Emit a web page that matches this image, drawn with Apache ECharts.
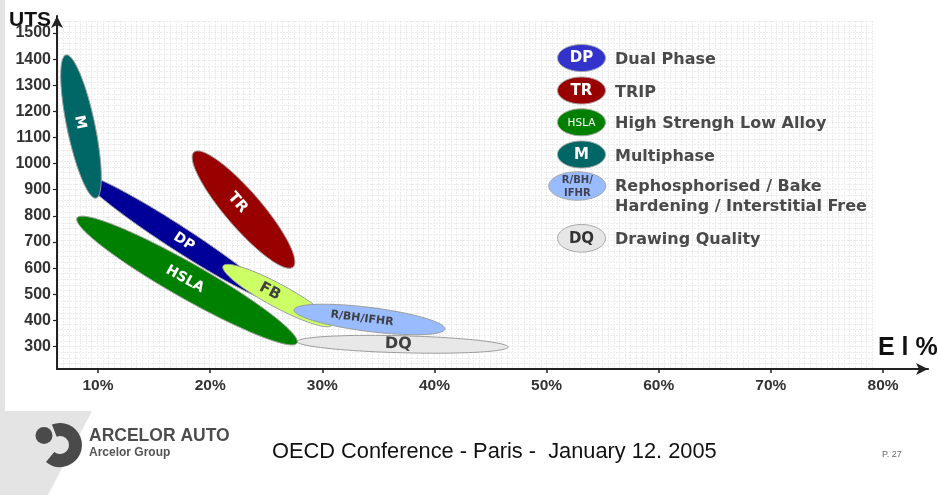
<!DOCTYPE html>
<html>
<head>
<meta charset="utf-8">
<script src="https://cdn.jsdelivr.net/npm/echarts@6/dist/echarts.min.js"></script>
<style>
html,body{margin:0;padding:0;background:#ffffff;}
#chart{width:938px;height:495px;}
</style>
</head>
<body>
<div id="chart"></div>
<script>
// ---- data: steel grade regions, given by the two ends of each region's long axis ----
const grades   = ['DQ', 'HSLA', 'DP', 'M', 'TR', 'FB', 'R/BH/IFHR'];
const elStart  = [27.75, 8.13, 8.53, 7.15, 18.56, 21.15, 27.48];   // El % at start of region
const utsStart = [319, 792, 955, 1416, 1044, 608, 440];             // UTS (MPa) at start
const elEnd    = [46.56, 27.75, 25.74, 9.82, 27.39, 30.87, 40.94];  // El % at end of region
const utsEnd   = [298, 313, 476, 868, 604, 382, 367];               // UTS (MPa) at end

// ---- tick labels ----
const xTicks = [10, 20, 30, 40, 50, 60, 70, 80];
const yTicks = [300, 400, 500, 600, 700, 800, 900, 1000, 1100, 1200, 1300, 1400, 1500];

// ---- legend ----
const legendCodes = ['DP', 'TR', 'HSLA', 'M', 'R/BH/\nIFHR', 'DQ'];
const legendNames = ['Dual Phase', 'TRIP', 'High Strengh Low Alloy', 'Multiphase',
                     'Rephosphorised / Bake\nHardening / Interstitial Free', 'Drawing Quality'];

// ---- styles (not data) ----
const look = {
  'DQ':        {fill:'#e8e8e8', text:'#404040', half:8.5,  font:16, t:0.48},
  'HSLA':      {fill:'#008000', text:'#ffffff', half:17.5, font:14, t:0.49},
  'DP':        {fill:'#000099', text:'#ffffff', half:12,   font:14, t:0.53},
  'M':         {fill:'#006666', text:'#ffffff', half:14,   font:14, t:0.47},
  'TR':        {fill:'#990000', text:'#ffffff', half:18,   font:15, t:0.44},
  'FB':        {fill:'#ccff66', text:'#404040', half:11.5, font:15, t:0.43},
  'R/BH/IFHR': {fill:'#99bbff', text:'#404040', half:12,   font:11, t:0.45}
};
const legendLook = [
  {fill:'#3333cc', text:'#ffffff', font:'bold 15px "DejaVu Sans"', rx:24, ry:13.5, cx:581.5, cy:58},
  {fill:'#990000', text:'#ffffff', font:'bold 15px "DejaVu Sans"', rx:24, ry:13.5, cx:581.5, cy:90.5},
  {fill:'#008000', text:'#ffffff', font:'10.5px "DejaVu Sans"',    rx:24, ry:13.5, cx:581.5, cy:122.3},
  {fill:'#006666', text:'#ffffff', font:'bold 15px "DejaVu Sans"', rx:24, ry:13.5, cx:581.5, cy:154.5},
  {fill:'#99bbff', text:'#404055', font:'bold 10px "DejaVu Sans"', rx:28.5, ry:14.2, cx:577.3, cy:186},
  {fill:'#e6e6e6', text:'#333333', font:'bold 15px "DejaVu Sans"', rx:24, ry:13.8, cx:581.5, cy:238.3}
];

const regionData = grades.map((g, i) => [elStart[i], utsStart[i], elEnd[i], utsEnd[i]]);

const graphics = [];
// page decoration
graphics.push({type:'rect', shape:{x:0, y:0, width:5, height:411}, style:{fill:'#e4e4e4'}, silent:true});
graphics.push({type:'polygon', shape:{points:[[0,411],[92,411],[48,495],[0,495]]}, style:{fill:'#e4e4e4'}, silent:true});
// legend
legendCodes.forEach((code, i) => {
  const L = legendLook[i];
  graphics.push({type:'ellipse', shape:{cx:L.cx, cy:L.cy, rx:L.rx, ry:L.ry},
    style:{fill:L.fill, stroke:'#a8a8a8', lineWidth:1}, z:10});
  graphics.push({type:'text', x:L.cx, y:L.cy + 0.5, z:11,
    style:{text:code, fill:L.text, font:L.font, align:'center', verticalAlign:'middle', lineHeight:13}});
  graphics.push({type:'text', x:615, y:(i === 4 ? 197 : L.cy + 2), z:11,
    style:{text:legendNames[i], fill:'#4a4a4a', font:'bold 16px "DejaVu Sans"', align:'left', verticalAlign:'middle', lineHeight:19.5}});
});
// axis titles
graphics.push({type:'text', x:9, y:20, style:{text:'UTS', fill:'#111', font:'bold 21px "Liberation Sans", Arial', verticalAlign:'middle'}});
graphics.push({type:'text', x:878, y:348.5, style:{text:'E l %', fill:'#111', font:'bold 25px "Liberation Sans", Arial', verticalAlign:'middle'}});
// footer
graphics.push({type:'circle', shape:{cx:44, cy:435.5, r:8.5}, style:{fill:'#4a4a4a'}});
graphics.push({type:'sector', shape:{cx:60, cy:445, r:22, r0:9, startAngle:-Math.PI*0.62, endAngle:Math.PI*0.72, clockwise:true}, style:{fill:'#4a4a4a'}});
graphics.push({type:'text', x:89, y:436, style:{text:'ARCELOR AUTO', fill:'#4d4d4d', font:'bold 17.5px "Liberation Sans", Arial', verticalAlign:'middle'}});
graphics.push({type:'text', x:89, y:452.5, style:{text:'Arcelor Group', fill:'#555', font:'bold 12px "Liberation Sans", Arial', verticalAlign:'middle'}});
graphics.push({type:'text', x:272, y:452, style:{text:'OECD Conference - Paris -  January 12. 2005', fill:'#111', font:'21.8px "Liberation Sans", Arial', verticalAlign:'middle'}});
graphics.push({type:'text', x:882, y:455, style:{text:'P. 27', fill:'#666', font:'9px "Liberation Sans", Arial', verticalAlign:'middle'}});

const labelFont = '"Liberation Sans", Arial, sans-serif';

const option = {
  animation: false,
  backgroundColor: '#ffffff',
  grid: [
    {left:57, right:10, top:16, bottom:126},
    {left:58, top:21, width:814, height:348}
  ],
  xAxis: [
    {type:'value', gridIndex:0, min:6.344, max:84.01,
     axisLine:{show:true, symbol:['none','arrow'], symbolSize:[9,12], lineStyle:{color:'#222', width:2.2}},
     axisTick:{show:true, customValues:xTicks, length:4, lineStyle:{color:'#222', width:1.5}},
     axisLabel:{show:true, customValues:xTicks, formatter:(v) => v + '%', margin:9,
                color:'#333', fontWeight:'bold', fontSize:15.5, fontFamily:labelFont},
     splitLine:{show:false}},
    {type:'value', gridIndex:1, min:0, max:145, interval:1,
     axisLine:{show:false}, axisTick:{show:false}, axisLabel:{show:false},
     splitLine:{show:true, lineStyle:{color:'#ececec', width:1, type:[2,1]}}}
  ],
  yAxis: [
    {type:'value', gridIndex:0, min:213.9, max:1565,
     axisLine:{show:true, symbol:['none','arrow'], symbolSize:[9,12], lineStyle:{color:'#222', width:2}},
     axisTick:{show:true, customValues:yTicks, length:4, lineStyle:{color:'#222', width:1.2}},
     axisLabel:{show:true, customValues:yTicks, formatter:(v) => String(v), margin:6,
                color:'#333', fontWeight:'bold', fontSize:16, fontFamily:labelFont},
     splitLine:{show:false}},
    {type:'value', gridIndex:1, min:0, max:62, interval:1,
     axisLine:{show:false}, axisTick:{show:false}, axisLabel:{show:false},
     splitLine:{show:true, lineStyle:{color:'#ececec', width:1, type:[2,1]}}}
  ],
  graphic: graphics,
  series: [{
    type:'custom',
    coordinateSystem:'cartesian2d',
    xAxisIndex:0, yAxisIndex:0,
    encode:{x:[0,2], y:[1,3]},
    data: regionData,
    renderItem: function (params, api) {
      const g = grades[params.dataIndex];
      const s = look[g];
      const p1 = api.coord([api.value(0), api.value(1)]);
      const p2 = api.coord([api.value(2), api.value(3)]);
      const dx = p2[0] - p1[0], dy = p2[1] - p1[1];
      const a = Math.hypot(dx, dy) / 2, ang = Math.atan2(dy, dx);
      const cx = (p1[0] + p2[0]) / 2, cy = (p1[1] + p2[1]) / 2;
      const ca = Math.cos(ang), sa = Math.sin(ang);
      const pts = [];
      for (let k = 0; k < 120; k++) {
        const th = k / 120 * Math.PI * 2;
        const u = a * Math.cos(th), v = s.half * Math.sin(th);
        pts.push([cx + u * ca - v * sa, cy + u * sa + v * ca]);
      }
      const lx = p1[0] + dx * s.t, ly = p1[1] + dy * s.t;
      return {
        type:'group',
        children:[
          {type:'polygon', shape:{points:pts}, style:{fill:s.fill, stroke:'#9c9c9c', lineWidth:1}},
          {type:'text', x:lx, y:ly, rotation:-ang,
           style:{text:g, fill:s.text, font:'bold ' + s.font + 'px "DejaVu Sans"', align:'center', verticalAlign:'middle'}}
        ]
      };
    }
  }]
};

const chart = echarts.init(document.getElementById('chart'), null, {renderer:'canvas'});
chart.setOption(option);
</script>
</body>
</html>
